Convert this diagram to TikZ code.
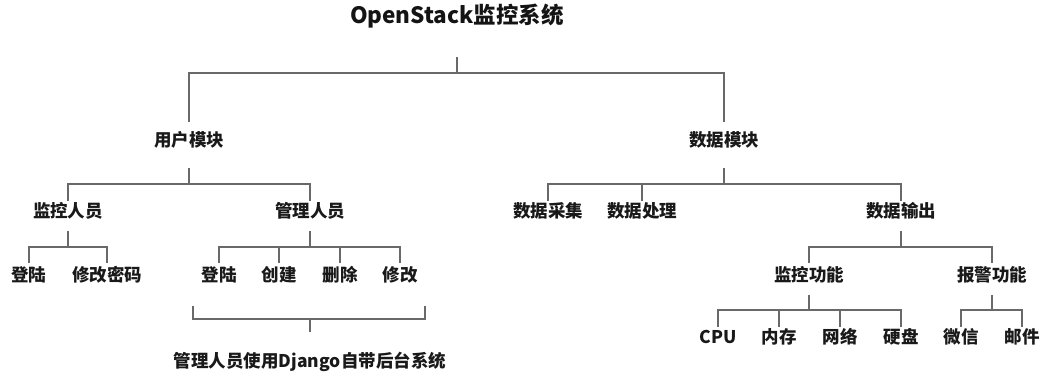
\documentclass[tikz,border=0pt]{standalone}
\usepackage{fontspec}
\setmainfont{Noto Sans CJK SC}
\begin{document}
\begin{tikzpicture}[x=1pt,y=-1pt,
  conn/.style={draw={rgb,255:red,105;green,105;blue,105},line width=1.3pt},
  lbl/.style={inner sep=0pt,text height=0.6em,text depth=0.2em,minimum height=#1,
    font=\fontsize{17.5}{20}\selectfont\bfseries,text={rgb,255:red,25;green,25;blue,25}},
  ttl/.style={inner sep=0pt,text height=0.6em,text depth=0.2em,minimum height=#1,
    font=\fontsize{22.5}{26}\selectfont\bfseries,text={rgb,255:red,20;green,20;blue,20}}]
\useasboundingbox (0,0) rectangle (1045,377);
% nodes
\node[ttl=70] (root) at (457,22) {OpenStack监控系统};
\node[lbl=46] (um) at (189,145) {用户模块};
\node[lbl=46] (dm) at (724,145) {数据模块};
\node[lbl=30] (jk) at (68,216) {监控人员};
\node[lbl=30] (gl) at (310,216) {管理人员};
\node[lbl=30] (cj) at (548,216) {数据采集};
\node[lbl=30] (cl) at (642,216) {数据处理};
\node[lbl=30] (sc) at (901,216) {数据输出};
\node[lbl=31] (dl1) at (29,279) {登陆};
\node[lbl=31] (xg1) at (107,279) {修改密码};
\node[lbl=31] (dl2) at (219,279) {登陆};
\node[lbl=31] (cj2) at (279,279) {创建};
\node[lbl=31] (sc2) at (340,279) {删除};
\node[lbl=31] (xg2) at (400,279) {修改};
\node[lbl=31] (jkgn) at (809,279) {监控功能};
\node[lbl=31] (bjgn) at (992,279) {报警功能};
\node[lbl=28] (cpu) at (718,341) {CPU};
\node[lbl=28] (nc) at (779,341) {内存};
\node[lbl=28] (wl) at (840,341) {网络};
\node[lbl=28] (yp) at (901,341) {硬盘};
\node[lbl=28] (wx) at (961,341) {微信};
\node[lbl=28] (yj) at (1022,341) {邮件};
\node[lbl=66] (dj) at (310,365) {管理人员使用Django自带后台系统};
% bar levels
\coordinate (b0) at (0,73);
\coordinate (b1) at (0,184);
\coordinate (b2) at (0,247);
\coordinate (b3) at (0,310);
% root
\draw[conn] (root.south) -- (root.south|-b0);
\draw[conn] (um.north) |- (dm.north|-b0) -- (dm.north);
% user module
\draw[conn] (um.south) -- (um.south|-b1);
\draw[conn] (jk.north) |- (gl.north|-b1) -- (gl.north);
% data module
\draw[conn] (dm.south) -- (dm.south|-b1);
\draw[conn] (cj.north) |- (sc.north|-b1) -- (sc.north);
\draw[conn] (cl.north) -- (cl.north|-b1);
% monitor staff
\draw[conn] (jk.south) -- (jk.south|-b2);
\draw[conn] (dl1.north) |- (xg1.north|-b2) -- (xg1.north);
% admin staff
\draw[conn] (gl.south) -- (gl.south|-b2);
\draw[conn] (dl2.north) |- (xg2.north|-b2) -- (xg2.north);
\draw[conn] (cj2.north) -- (cj2.north|-b2);
\draw[conn] (sc2.north) -- (sc2.north|-b2);
% data output
\draw[conn] (sc.south) -- (sc.south|-b2);
\draw[conn] (jkgn.north) |- (bjgn.north|-b2) -- (bjgn.north);
% monitor function
\draw[conn] (jkgn.south) -- (jkgn.south|-b3);
\draw[conn] (cpu.north) |- (yp.north|-b3) -- (yp.north);
\draw[conn] (nc.north) -- (nc.north|-b3);
\draw[conn] (wl.north) -- (wl.north|-b3);
% alarm function
\draw[conn] (bjgn.south) -- (bjgn.south|-b3);
\draw[conn] (wx.north) |- (yj.north|-b3) -- (yj.north);
% bracket
\coordinate (bl) at (193,306);
\coordinate (br) at (425,306);
\coordinate (bm) at (310,319);
\draw[conn] (bl) |- (br|-bm) -- (br);
\draw[conn] (bm) -- (dj.north);
\end{tikzpicture}
\end{document}
